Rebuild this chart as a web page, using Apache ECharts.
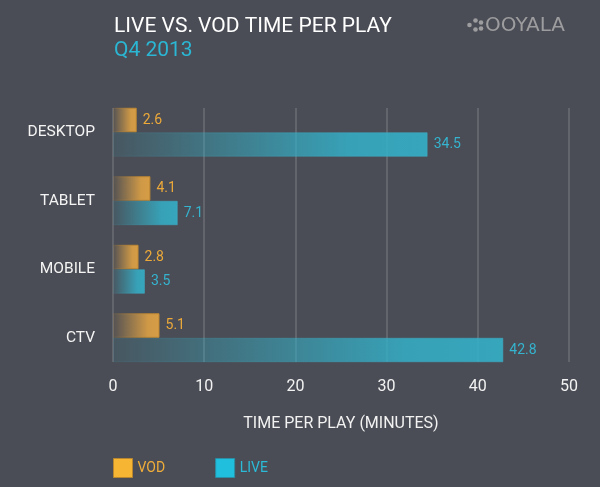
<!DOCTYPE html>
<html>
<head>
<meta charset="utf-8">
<script src="https://cdn.jsdelivr.net/npm/echarts@6/dist/echarts.min.js"></script>
<style>
  html, body { margin: 0; padding: 0; background: #4a4d55; }
  #chart { width: 600px; height: 487px; }
</style>
</head>
<body>
<div id="chart"></div>
<script>
  // data
  const categories = ["DESKTOP", "TABLET", "MOBILE", "CTV"];
  const vodValues = [2.6, 4.1, 2.8, 5.1];
  const liveValues = [34.5, 7.1, 3.5, 42.8];
  const xTicks = { min: 0, max: 50, interval: 10 };

  const font = "Roboto, 'Liberation Sans', sans-serif";

  // bars fade in from the left
  function fade(r, g, b, a0, a1) {
    return new echarts.graphic.LinearGradient(0, 0, 1, 0, [
      { offset: 0, color: "rgba(" + r + "," + g + "," + b + "," + a0 + ")" },
      { offset: 0.75, color: "rgba(" + r + "," + g + "," + b + "," + (a1 - 0.05) + ")" },
      { offset: 1, color: "rgba(" + r + "," + g + "," + b + "," + a1 + ")" }
    ]);
  }

  let chart = echarts.init(document.getElementById("chart"));
  let option = {
    backgroundColor: "#4a4d55",
    animation: false,
    title: [
      {
        text: "LIVE VS. VOD TIME PER PLAY",
        left: 114,
        top: 16,
        padding: 0,
        textStyle: { color: "#ffffff", fontSize: 21, fontWeight: "normal", fontFamily: font }
      },
      {
        text: "Q4 2013",
        left: 114,
        top: 40,
        padding: 0,
        textStyle: { color: "#2bb6d3", fontSize: 21, fontWeight: "normal", fontFamily: font }
      }
    ],
    graphic: [
      // ooyala logo
      { type: "circle", shape: { cx: 469.5, cy: 25, r: 2.3 }, style: { fill: "#9d9d9f" } },
      { type: "circle", shape: { cx: 475.5, cy: 20.5, r: 2.3 }, style: { fill: "#9d9d9f" } },
      { type: "circle", shape: { cx: 481, cy: 22.5, r: 2.3 }, style: { fill: "#9d9d9f" } },
      { type: "circle", shape: { cx: 475.5, cy: 29.5, r: 2.3 }, style: { fill: "#9d9d9f" } },
      { type: "circle", shape: { cx: 481, cy: 28.5, r: 2.3 }, style: { fill: "#9d9d9f" } },
      {
        type: "text",
        left: 485,
        top: 16,
        style: { text: "OOYALA", fill: "#9d9d9f", fontSize: 20, fontFamily: "'DejaVu Sans', sans-serif" }
      }
    ],
    legend: {
      left: 113,
      top: 458,
      padding: 0,
      itemWidth: 19,
      itemHeight: 19,
      itemGap: 50,
      icon: "rect",
      selectedMode: false,
      textStyle: { fontSize: 14, fontFamily: font },
      data: [
        {
          name: "VOD",
          itemStyle: { color: "#f6b533", borderColor: "#b8862e", borderWidth: 1 },
          textStyle: { color: "#f0ad3a" }
        },
        {
          name: "LIVE",
          itemStyle: { color: "#1fbfdd", borderColor: "#2a8ea4", borderWidth: 1 },
          textStyle: { color: "#2bbad8" }
        }
      ]
    },
    grid: [
      // grid for the vertical lines and x labels
      { left: 113, right: 31, top: 108, bottom: 125 },
      // grid for the bars
      { left: 113, right: 31, top: 98, bottom: 115 }
    ],
    xAxis: [
      {
        gridIndex: 0,
        type: "value",
        min: xTicks.min,
        max: xTicks.max,
        interval: xTicks.interval,
        name: "TIME PER PLAY (MINUTES)",
        nameLocation: "middle",
        nameGap: 54,
        nameTextStyle: { color: "#f2f2f2", fontSize: 16, fontFamily: font },
        axisLine: { show: false },
        axisTick: { show: false },
        axisLabel: { color: "#f2f2f2", fontSize: 16, margin: 17, fontFamily: font },
        splitLine: { show: true, lineStyle: { color: "#6c6e74", width: 1.5 } }
      },
      {
        gridIndex: 1,
        type: "value",
        min: xTicks.min,
        max: xTicks.max,
        show: false
      }
    ],
    yAxis: [
      {
        gridIndex: 0,
        type: "category",
        data: categories,
        show: false
      },
      {
        gridIndex: 1,
        type: "category",
        data: categories,
        inverse: true,
        axisLine: { show: false },
        axisTick: { show: false },
        axisLabel: { color: "#f4f4f4", fontSize: 15.5, margin: 18, fontFamily: font },
        splitLine: { show: false }
      }
    ],
    series: [
      {
        name: "VOD",
        type: "bar",
        xAxisIndex: 1,
        yAxisIndex: 1,
        data: vodValues,
        barWidth: 24.5,
        barGap: "0%",
        itemStyle: {
          color: fade(227, 164, 68, 0.06, 0.92),
          borderColor: fade(190, 135, 50, 0.15, 1),
          borderWidth: 1
        },
        label: {
          show: true,
          position: "right",
          distance: 6,
          color: "#eca93a",
          fontSize: 14,
          fontFamily: font
        }
      },
      {
        name: "LIVE",
        type: "bar",
        xAxisIndex: 1,
        yAxisIndex: 1,
        data: liveValues,
        barWidth: 24.5,
        barGap: "0%",
        itemStyle: {
          color: fade(52, 176, 200, 0.1, 0.9),
          borderColor: fade(60, 170, 195, 0.1, 0.6),
          borderWidth: 1
        },
        label: {
          show: true,
          position: "right",
          distance: 6,
          color: "#35b3cf",
          fontSize: 14,
          fontFamily: font
        }
      }
    ]
  };

  chart.setOption(option, true);
</script>
</body>
</html>
